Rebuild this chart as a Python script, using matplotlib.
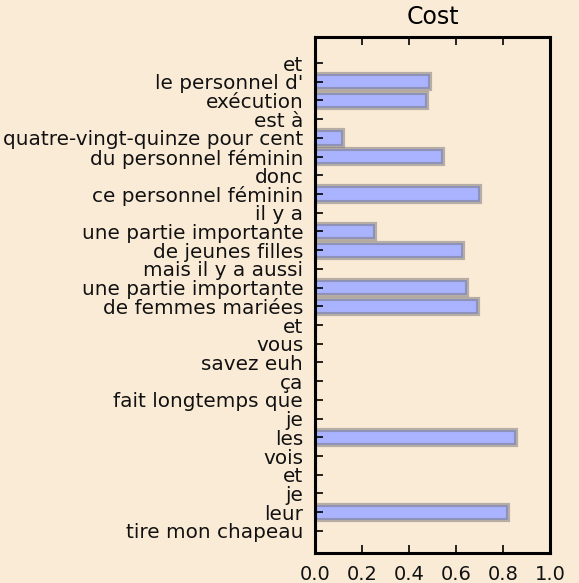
import numpy as np
import matplotlib.pyplot as plt

# phrases, top to bottom
labels = ["et", "le personnel d'", "exécution", "est à",
          "quatre-vingt-quinze pour cent", "du personnel féminin", "donc",
          "ce personnel féminin", "il y a", "une partie importante",
          "de jeunes filles", "mais il y a aussi", "une partie importante",
          "de femmes mariées", "et", "vous", "savez euh", "ça",
          "fait longtemps que", "je", "les", "vois", "et", "je", "leur",
          "tire mon chapeau"]
cost = [0.0, 0.49, 0.475, 0.0, 0.12, 0.545, 0.0, 0.70, 0.0, 0.255,
        0.63, 0.0, 0.645, 0.695, 0.0, 0.0, 0.0, 0.0, 0.0, 0.0, 0.855,
        0.0, 0.0, 0.0, 0.82, 0.0]

bg = '#faebd7'
fig = plt.figure(figsize=(5.79, 5.83), dpi=100, facecolor=bg)
ax = fig.add_axes([315/579, 1 - 553/583, 235/579, 516/583])
ax.set_facecolor(bg)

y = np.arange(len(labels))
ax.barh(y, cost, height=0.82, color='#aab3ff',
        edgecolor=(0.45, 0.45, 0.45, 0.5), linewidth=3)

ax.set_xlim(0, 1.0)
ax.set_ylim(len(labels) - 1 + 1.18, -1.39)
ax.tick_params(direction='in', length=6, width=1.2, top=True, right=False,
               labelcolor='#111111')
ax.tick_params(axis='x', pad=9, labelsize=14)
ax.tick_params(axis='y', pad=8.5, labelsize=14.4)
ax.set_yticks(y)
ax.set_yticklabels(labels)
ax.set_xticks(np.arange(0, 1.01, 0.2))
ax.set_xticklabels(['%.1f' % v for v in np.arange(0, 1.01, 0.2)])
for s in ax.spines.values():
    s.set_linewidth(2.2)
ax.set_title('Cost', fontsize=17, pad=9)

fig.savefig('out.png', facecolor=bg)
